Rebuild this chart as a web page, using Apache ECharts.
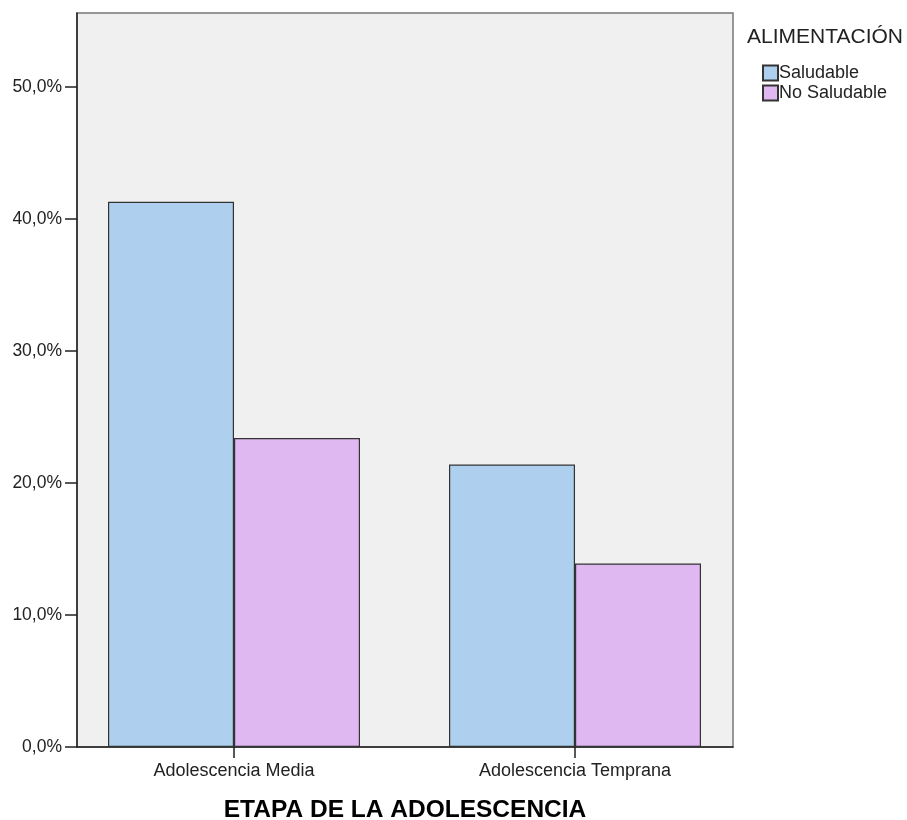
<!DOCTYPE html>
<html>
<head>
<meta charset="utf-8">
<script src="https://cdn.jsdelivr.net/npm/echarts@6/dist/echarts.min.js"></script>
<style>html,body{margin:0;padding:0;background:#fff}#c{width:907px;height:820px}</style>
</head>
<body>
<div id="c"></div>
<script>
const categories = ['Adolescencia Media', 'Adolescencia Temprana'];
const seriesNames = ['Saludable', 'No Saludable'];
const saludable = [41.3, 21.4];
const noSaludable = [23.4, 13.9];
const yTicks = [0, 10, 20, 30, 40, 50];
const legendTitle = 'ALIMENTACIÓN';
const xTitle = 'ETAPA DE LA ADOLESCENCIA';

const FONT = '"Liberation Sans", Arial, sans-serif';
const chart = echarts.init(document.getElementById('c'));
const toPairs = arr => arr.map((v, i) => [i, v]);
const catIdx = categories.map((_, i) => i);

chart.setOption({
  animation: false,
  backgroundColor: '#ffffff',
  textStyle: { fontFamily: FONT },
  title: {
    text: legendTitle,
    left: 747, top: 27, padding: 0,
    textStyle: { fontFamily: FONT, fontSize: 21, fontWeight: 'normal', color: '#222' }
  },
  legend: {
    orient: 'vertical',
    left: 762, top: 64, padding: 0,
    itemWidth: 15, itemHeight: 15, itemGap: 2,
    icon: 'rect',
    textStyle: { fontFamily: FONT, fontSize: 18, color: '#222', padding: [0, 0, 0, -4] },
    data: seriesNames
  },
  grid: {
    left: 77, top: 13, right: 174, bottom: 73,
    outerBoundsMode: 'none',
    show: true, backgroundColor: '#f0f0f0', borderColor: '#777', borderWidth: 1.5,
    containLabel: false
  },
  xAxis: {
    type: 'value',
    min: -0.4604, max: 1.4633,
    name: xTitle, nameLocation: 'middle', nameGap: 51,
    nameTextStyle: { fontFamily: FONT, fontSize: 24.5, fontWeight: 'bold', color: '#000' },
    axisLine: { show: true, onZero: false, lineStyle: { color: '#222', width: 1.5 } },
    axisTick: { show: true, customValues: catIdx, length: 11, lineStyle: { color: '#222', width: 1.5 } },
    axisLabel: {
      customValues: catIdx, margin: 15, fontSize: 18, color: '#222', fontFamily: FONT,
      formatter: v => categories[Math.round(v)] || ''
    },
    splitLine: { show: false }
  },
  yAxis: {
    type: 'value',
    min: 0, max: 55.6,
    axisLine: { show: true, onZero: false, lineStyle: { color: '#222', width: 1.5 } },
    axisTick: { show: true, customValues: yTicks, length: 12, lineStyle: { color: '#222', width: 1.5 } },
    axisLabel: {
      customValues: yTicks, margin: 15, fontSize: 17.5, color: '#222', fontFamily: FONT,
      formatter: v => v.toFixed(1).replace('.', ',') + '%'
    },
    splitLine: { show: false }
  },
  series: [
    {
      name: seriesNames[0], type: 'bar', data: toPairs(saludable),
      barWidth: 126, barGap: '0%',
      itemStyle: { color: '#aed0ee', borderColor: '#333', borderWidth: 1.2 }
    },
    {
      name: seriesNames[1], type: 'bar', data: toPairs(noSaludable),
      barWidth: 126, barGap: '0%',
      itemStyle: { color: '#dfb8f2', borderColor: '#333', borderWidth: 1.2 }
    }
  ]
});
</script>
</body>
</html>
